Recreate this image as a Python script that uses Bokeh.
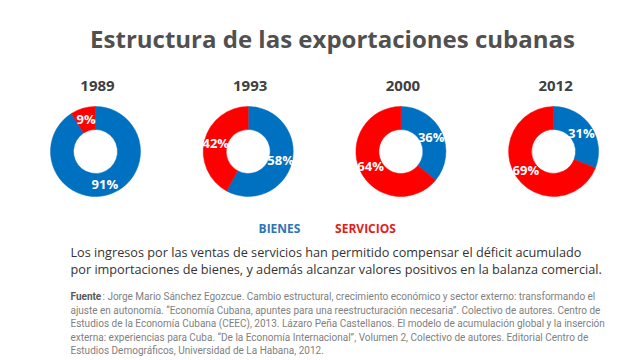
import math
from bokeh.plotting import figure
from bokeh.models import Range1d
from bokeh.core.properties import value
from bokeh.embed import file_html
from bokeh.resources import INLINE

# ---- data ----
years = ["1989", "1993", "2000", "2012"]
bienes = [91, 58, 36, 31]
servicios = [9, 42, 64, 69]
legend_labels = ["BIENES", "SERVICIOS"]
title = "Estructura de las exportaciones cubanas"
paragraph = [
    "Los ingresos por las ventas de servicios han permitido compensar el déficit acumulado",
    "por importaciones de bienes, y además alcanzar valores positivos en la balanza comercial.",
]
fuente_label = "Fuente"
fuente_lines = [
    ": Jorge Mario Sánchez Egozcue. Cambio estructural, crecimiento económico y sector externo: transformando el",
    "ajuste en autonomía. \u201cEconomía Cubana, apuntes para una reestructuración necesaria\u201d. Colectivo de autores. Centro de",
    "Estudios de la Economía Cubana (CEEC), 2013. Lázaro Peña Castellanos. El modelo de acumulación global y la inserción",
    "externa: experiencias para Cuba. \u201cDe la Economía Internacional\u201d, Volumen 2, Colectivo de autores. Editorial Centro de",
    "Estudios Demográficos, Universidad de La Habana, 2012.",
]

# ---- layout (pixel-like coordinates, y measured from bottom of window) ----
W, H = 640, 360
BLUE = "#0070C0"
RED = "#FF0000"
FONT = "Open Sans"
SMALL_FONT = "Roboto"

def Y(py):
    return H - py

p = figure(width=W, height=H, output_backend="svg", toolbar_location=None,
           x_axis_type=None, y_axis_type=None, min_border=0,
           x_range=Range1d(0, W), y_range=Range1d(0, H))
p.grid.visible = False
p.outline_line_color = None
p.background_fill_color = "white"
p.border_fill_color = "white"

cx0, dx, cy = 95, 152.7, 151
r_in, r_out = 22, 45
centers = [cx0 + i * dx for i in range(len(years))]

top = math.pi / 2
bx, by, bs, be = [], [], [], []
sx, sy, ss, se = [], [], [], []
lx, ly, lt = [], [], []
rmid = (r_in + r_out) / 2
for c, b, s in zip(centers, bienes, servicios):
    tot = b + s
    b_ang = 2 * math.pi * b / tot
    s_ang = 2 * math.pi * s / tot
    bx.append(c); by.append(Y(cy)); bs.append(top - b_ang); be.append(top)
    sx.append(c); sy.append(Y(cy)); ss.append(top); se.append(top + s_ang)
    mb = top - b_ang / 2
    ms = top + s_ang / 2
    lx += [c + rmid * math.cos(mb), c + rmid * math.cos(ms)]
    ly += [Y(cy) + rmid * math.sin(mb), Y(cy) + rmid * math.sin(ms)]
    lt += [f"{b}%", f"{s}%"]

p.annular_wedge(x=bx, y=by, inner_radius=r_in, outer_radius=r_out,
                start_angle=bs, end_angle=be, fill_color=BLUE, line_color=BLUE, line_width=0.5)
p.annular_wedge(x=sx, y=sy, inner_radius=r_in, outer_radius=r_out,
                start_angle=ss, end_angle=se, fill_color=RED, line_color=RED, line_width=0.5)
p.text(x=lx, y=ly, text=lt, text_font=value(FONT), text_font_style="bold",
       text_font_size="13px", text_color="white", text_align="center", text_baseline="middle")

# year labels
p.text(x=[c + 2 for c in centers], y=[Y(85)] * len(years), text=years, text_font=value(FONT),
       text_font_style="bold", text_font_size="15px", text_color="#404040",
       text_align="center", text_baseline="middle")

# title
p.text(x=[332], y=[Y(38)], text=[title], text_font=value(FONT), text_font_style="bold",
       text_font_size="24px", text_color="#505050", text_align="center", text_baseline="middle")

# legend texts
p.text(x=[279, 365], y=[Y(228)] * 2, text=legend_labels, text_font=value(FONT),
       text_font_style="bold", text_font_size="12px", text_color=["#2E75B6", "#E0201B"],
       text_align="center", text_baseline="middle")

# paragraph
p.text(x=[70, 70], y=[Y(251), Y(268)], text=paragraph, text_font=value(FONT),
       text_font_size="12.7px", text_color="#333333", text_align="left", text_baseline="middle")

# source
fy = [296 + 13.5 * i for i in range(len(fuente_lines))]
p.text(x=[70], y=[Y(fy[0])], text=[fuente_label], text_font=value(SMALL_FONT), text_font_style="bold",
       text_font_size="10px", text_color="#595959", text_align="left", text_baseline="middle")
p.text(x=[102] + [70] * (len(fuente_lines) - 1), y=[Y(v) for v in fy], text=fuente_lines,
       text_font=value(SMALL_FONT), text_font_size="10px", text_color="#7F7F7F",
       text_align="left", text_baseline="middle")

open("out.html", "w").write(file_html(p, INLINE))
